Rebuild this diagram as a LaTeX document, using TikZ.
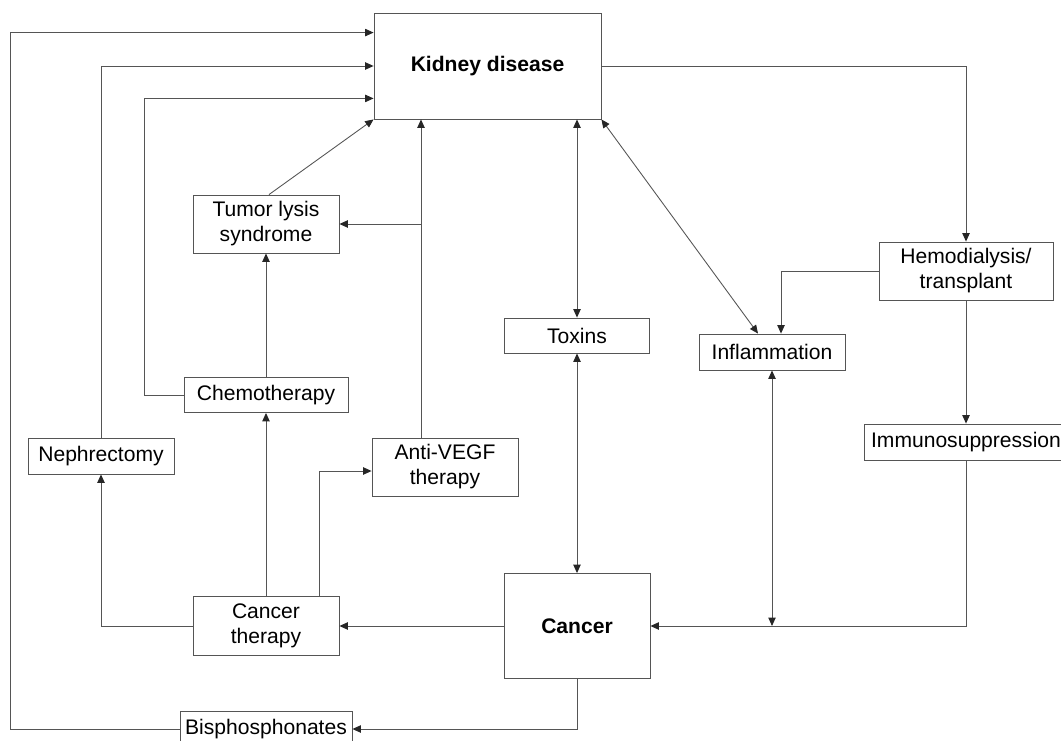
\documentclass[tikz,border=0pt]{standalone}
\usepackage{fontspec}
\setmainfont{Liberation Sans}
\usetikzlibrary{calc,arrows.meta}
\definecolor{line_grey}{HTML}{555555}

\begin{document}
\begin{tikzpicture}[x=0.02cm,y=-0.02cm,>={Triangle[length=4.8pt,width=4.2pt,color=black!85]},
    box/.style={draw=line_grey,line width=0.5pt,fill=white,align=center,inner sep=0pt,
                font=\fontsize{12}{14.2}\selectfont},
    link/.style={draw=line_grey,line width=0.5pt}]

    \useasboundingbox (0,0) rectangle (1061,740);

    % Les boîtes
    \node[box,minimum width=4.54cm,minimum height=2.12cm] (kidney) at (487.5,66) {\textbf{Kidney disease}};
    \node[box,minimum width=2.92cm,minimum height=1.16cm] (tumor) at (266,224) {Tumor lysis\\syndrome};
    \node[box,minimum width=3.28cm,minimum height=0.70cm] (chemo) at (266,395) {Chemotherapy};
    \node[box,minimum width=2.92cm,minimum height=0.72cm] (nephr) at (101,456) {Nephrectomy};
    \node[box,minimum width=2.92cm,minimum height=1.16cm] (antivegf) at (445,467) {Anti-VEGF\\therapy};
    \node[box,minimum width=2.92cm,minimum height=1.18cm] (cther) at (266,626) {Cancer\\therapy};
    \node[box,minimum width=2.92cm,minimum height=2.10cm] (cancer) at (577,626) {\textbf{Cancer}};
    \node[box,minimum width=3.44cm,minimum height=0.72cm] (bisph) at (266,729) {Bisphosphonates};
    \node[box,minimum width=2.90cm,minimum height=0.70cm] (toxins) at (577,335.5) {Toxins};
    \node[box,minimum width=2.92cm,minimum height=0.72cm] (inflam) at (772,352) {Inflammation};
    \node[box,minimum width=3.48cm,minimum height=1.16cm] (hemo) at (966,271) {Hemodialysis/\\transplant};
    \node[box,minimum width=4.08cm,minimum height=0.72cm] (immuno) at (966,442) {Immunosuppression};

    % Points d'arrivée et de départ
    \coordinate (kin_top) at ($(kidney.north west)+(0,20)$);
    \coordinate (kin_low) at ($(kidney.south west)+(0,-21)$);
    \coordinate (vegf_foot) at ($(antivegf.north)+(-24,0)$);
    \coordinate (vegf_top) at (vegf_foot |- kidney.south);
    \coordinate (vegf_split) at (vegf_foot |- tumor.east);

    % Vers Kidney disease
    \draw[link,->] (bisph.west) -- ++(-169,0) |- (kin_top);
    \draw[link,->] (nephr.north) |- (kidney.west);
    \draw[link,->] (chemo.west) -- ++(-39,0) |- (kin_low);
    \draw[link,->] ($(tumor.north)+(3,0)$) -- (kidney.south west);
    \draw[link,->] (vegf_foot) -- (vegf_top);
    \draw[link,->] (vegf_split) -- (tumor.east);

    % Cancer therapy
    \draw[link,->] (chemo.north) -- (tumor.south);
    \draw[link,->] (cther.north) -- (chemo.south);
    \draw[link,->] (cther.west) -| (nephr.south);
    \draw[link,->] ($(cther.north)+(53,0)$) |- ($(antivegf.west)+(0,4)$);
    \draw[link,->] (cancer.west) -- (cther.east);
    \draw[link,->] (cancer.south) |- (bisph.east);

    % Toxins, Inflammation
    \draw[link,<->] (toxins.north |- kidney.south) -- (toxins.north);
    \draw[link,<->] (toxins.south) -- (cancer.north);
    \draw[link,<->] (kidney.south east) -- ($(inflam.north)+(-14,0)$);
    \draw[link,<->] (inflam.south) -- (inflam.south |- cancer.east);

    % Hemodialysis
    \draw[link,->] (kidney.east) -| (hemo.north);
    \draw[link,->] (hemo.west) -| ($(inflam.north)+(9,0)$);
    \draw[link,->] (hemo.south) -- (immuno.north);
    \draw[link,->] (immuno.south) |- (cancer.east);
\end{tikzpicture}
\end{document}
